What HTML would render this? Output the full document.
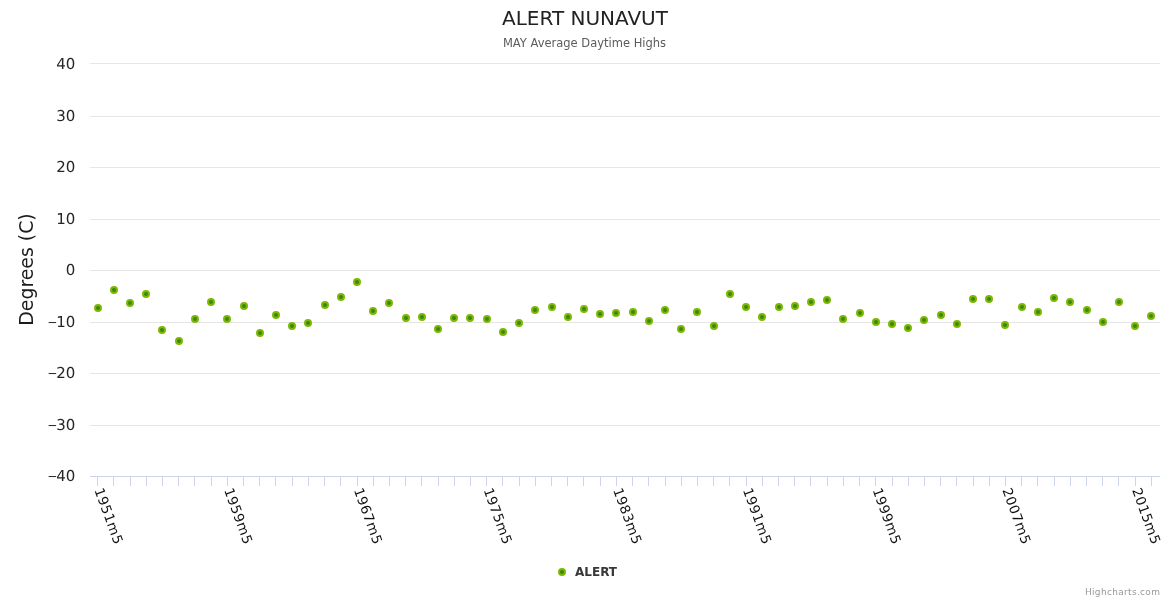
<!DOCTYPE html>
<html lang="en">
<head>
<meta charset="utf-8">
<title>ALERT NUNAVUT - MAY Average Daytime Highs</title>
<style>
html,body{margin:0;padding:0;background:#fff;}
body{width:1170px;height:600px;overflow:hidden;font-family:"DejaVu Sans", "Liberation Sans", sans-serif;}
#chart{position:absolute;left:0;top:0;width:1170px;height:600px;}
svg{display:block;font-family:"DejaVu Sans", "Liberation Sans", sans-serif;}
.grid line{stroke:#e6e6e6;stroke-width:1;shape-rendering:crispEdges;}
.axis line{stroke:#ccd6eb;stroke-width:1;shape-rendering:crispEdges;}
.pt circle, circle.pt{fill:#338d0a;stroke:#80b606;stroke-width:2;}
.ylab text{text-rendering:geometricPrecision;font-size:15px;fill:#262626;text-anchor:end;}
.ylab .neg{font-size:12.6px;text-anchor:start;}
.xlab text{font-size:13.5px;letter-spacing:0.5px;fill:#111;text-anchor:start;}
.title{font-size:20px;fill:#222;text-anchor:middle;}
.subtitle{font-size:11.5px;fill:#5c5c5c;text-anchor:middle;}
.ytitle{font-size:20px;fill:#1c1c1c;text-anchor:middle;}
.legend{font-size:12px;font-weight:bold;fill:#383838;}
.credits{font-size:9px;fill:#999;text-anchor:end;letter-spacing:0.32px;}
</style>
</head>
<body>
<div id="chart">
<svg width="1170" height="600" viewBox="0 0 1170 600">
<rect x="0" y="0" width="1170" height="600" fill="#ffffff"/>

<g class="grid">
<line x1="90" y1="63.5" x2="1160" y2="63.5"/>
<line x1="90" y1="116.5" x2="1160" y2="116.5"/>
<line x1="90" y1="167.5" x2="1160" y2="167.5"/>
<line x1="90" y1="219.5" x2="1160" y2="219.5"/>
<line x1="90" y1="270.5" x2="1160" y2="270.5"/>
<line x1="90" y1="322.5" x2="1160" y2="322.5"/>
<line x1="90" y1="373.5" x2="1160" y2="373.5"/>
<line x1="90" y1="425.5" x2="1160" y2="425.5"/>
</g>
<g class="axis">
<line x1="90" y1="476.5" x2="1160" y2="476.5"/>
<line x1="97.5" y1="477" x2="97.5" y2="486"/>
<line x1="113.5" y1="477" x2="113.5" y2="486"/>
<line x1="130.5" y1="477" x2="130.5" y2="486"/>
<line x1="146.5" y1="477" x2="146.5" y2="486"/>
<line x1="162.5" y1="477" x2="162.5" y2="486"/>
<line x1="178.5" y1="477" x2="178.5" y2="486"/>
<line x1="194.5" y1="477" x2="194.5" y2="486"/>
<line x1="211.5" y1="477" x2="211.5" y2="486"/>
<line x1="227.5" y1="477" x2="227.5" y2="486"/>
<line x1="243.5" y1="477" x2="243.5" y2="486"/>
<line x1="259.5" y1="477" x2="259.5" y2="486"/>
<line x1="275.5" y1="477" x2="275.5" y2="486"/>
<line x1="292.5" y1="477" x2="292.5" y2="486"/>
<line x1="308.5" y1="477" x2="308.5" y2="486"/>
<line x1="324.5" y1="477" x2="324.5" y2="486"/>
<line x1="340.5" y1="477" x2="340.5" y2="486"/>
<line x1="357.5" y1="477" x2="357.5" y2="486"/>
<line x1="373.5" y1="477" x2="373.5" y2="486"/>
<line x1="389.5" y1="477" x2="389.5" y2="486"/>
<line x1="405.5" y1="477" x2="405.5" y2="486"/>
<line x1="421.5" y1="477" x2="421.5" y2="486"/>
<line x1="438.5" y1="477" x2="438.5" y2="486"/>
<line x1="454.5" y1="477" x2="454.5" y2="486"/>
<line x1="470.5" y1="477" x2="470.5" y2="486"/>
<line x1="486.5" y1="477" x2="486.5" y2="486"/>
<line x1="502.5" y1="477" x2="502.5" y2="486"/>
<line x1="519.5" y1="477" x2="519.5" y2="486"/>
<line x1="535.5" y1="477" x2="535.5" y2="486"/>
<line x1="551.5" y1="477" x2="551.5" y2="486"/>
<line x1="567.5" y1="477" x2="567.5" y2="486"/>
<line x1="583.5" y1="477" x2="583.5" y2="486"/>
<line x1="600.5" y1="477" x2="600.5" y2="486"/>
<line x1="616.5" y1="477" x2="616.5" y2="486"/>
<line x1="632.5" y1="477" x2="632.5" y2="486"/>
<line x1="648.5" y1="477" x2="648.5" y2="486"/>
<line x1="665.5" y1="477" x2="665.5" y2="486"/>
<line x1="681.5" y1="477" x2="681.5" y2="486"/>
<line x1="697.5" y1="477" x2="697.5" y2="486"/>
<line x1="713.5" y1="477" x2="713.5" y2="486"/>
<line x1="729.5" y1="477" x2="729.5" y2="486"/>
<line x1="746.5" y1="477" x2="746.5" y2="486"/>
<line x1="762.5" y1="477" x2="762.5" y2="486"/>
<line x1="778.5" y1="477" x2="778.5" y2="486"/>
<line x1="794.5" y1="477" x2="794.5" y2="486"/>
<line x1="810.5" y1="477" x2="810.5" y2="486"/>
<line x1="827.5" y1="477" x2="827.5" y2="486"/>
<line x1="843.5" y1="477" x2="843.5" y2="486"/>
<line x1="859.5" y1="477" x2="859.5" y2="486"/>
<line x1="875.5" y1="477" x2="875.5" y2="486"/>
<line x1="892.5" y1="477" x2="892.5" y2="486"/>
<line x1="908.5" y1="477" x2="908.5" y2="486"/>
<line x1="924.5" y1="477" x2="924.5" y2="486"/>
<line x1="940.5" y1="477" x2="940.5" y2="486"/>
<line x1="956.5" y1="477" x2="956.5" y2="486"/>
<line x1="973.5" y1="477" x2="973.5" y2="486"/>
<line x1="989.5" y1="477" x2="989.5" y2="486"/>
<line x1="1005.5" y1="477" x2="1005.5" y2="486"/>
<line x1="1021.5" y1="477" x2="1021.5" y2="486"/>
<line x1="1037.5" y1="477" x2="1037.5" y2="486"/>
<line x1="1054.5" y1="477" x2="1054.5" y2="486"/>
<line x1="1070.5" y1="477" x2="1070.5" y2="486"/>
<line x1="1086.5" y1="477" x2="1086.5" y2="486"/>
<line x1="1102.5" y1="477" x2="1102.5" y2="486"/>
<line x1="1118.5" y1="477" x2="1118.5" y2="486"/>
<line x1="1135.5" y1="477" x2="1135.5" y2="486"/>
<line x1="1151.5" y1="477" x2="1151.5" y2="486"/>
</g>
<text class="title" x="585" y="25">ALERT NUNAVUT</text>
<text class="subtitle" x="584.5" y="47">MAY Average Daytime Highs</text>
<text class="ytitle" x="0" y="0" transform="translate(33,269.5) rotate(-90) scale(0.945,1)">Degrees (C)</text>
<g class="ylab">
<text x="75.3" y="69.0">40</text>
<text x="75.3" y="121.0">30</text>
<text x="75.3" y="172.0">20</text>
<text x="75.3" y="224.0">10</text>
<text x="75.3" y="275.0">0</text>
<text><tspan class="neg" x="47.3" y="326.0" textLength="10.3" lengthAdjust="spacingAndGlyphs">-</tspan><tspan x="75.3" y="327.0">10</tspan></text>
<text><tspan class="neg" x="47.3" y="377.0" textLength="10.3" lengthAdjust="spacingAndGlyphs">-</tspan><tspan x="75.3" y="378.0">20</tspan></text>
<text><tspan class="neg" x="47.3" y="429.0" textLength="10.3" lengthAdjust="spacingAndGlyphs">-</tspan><tspan x="75.3" y="430.0">30</tspan></text>
<text><tspan class="neg" x="47.3" y="480.0" textLength="10.3" lengthAdjust="spacingAndGlyphs">-</tspan><tspan x="75.3" y="481.0">40</tspan></text>
</g>
<g class="xlab">
<text x="94.3" y="489.9" transform="rotate(70 94.3 489.9)">1951m5</text>
<text x="224.0" y="489.9" transform="rotate(70 224.0 489.9)">1959m5</text>
<text x="353.7" y="489.9" transform="rotate(70 353.7 489.9)">1967m5</text>
<text x="483.4" y="489.9" transform="rotate(70 483.4 489.9)">1975m5</text>
<text x="613.1" y="489.9" transform="rotate(70 613.1 489.9)">1983m5</text>
<text x="742.8" y="489.9" transform="rotate(70 742.8 489.9)">1991m5</text>
<text x="872.5" y="489.9" transform="rotate(70 872.5 489.9)">1999m5</text>
<text x="1002.2" y="489.9" transform="rotate(70 1002.2 489.9)">2007m5</text>
<text x="1131.9" y="489.9" transform="rotate(70 1131.9 489.9)">2015m5</text>
</g>
<g class="pt">
<circle cx="98" cy="308" r="3"/>
<circle cx="114" cy="290" r="3"/>
<circle cx="130" cy="303" r="3"/>
<circle cx="146" cy="294" r="3"/>
<circle cx="162" cy="330" r="3"/>
<circle cx="179" cy="341" r="3"/>
<circle cx="195" cy="319" r="3"/>
<circle cx="211" cy="302" r="3"/>
<circle cx="227" cy="319" r="3"/>
<circle cx="244" cy="306" r="3"/>
<circle cx="260" cy="333" r="3"/>
<circle cx="276" cy="315" r="3"/>
<circle cx="292" cy="326" r="3"/>
<circle cx="308" cy="323" r="3"/>
<circle cx="325" cy="305" r="3"/>
<circle cx="341" cy="297" r="3"/>
<circle cx="357" cy="282" r="3"/>
<circle cx="373" cy="311" r="3"/>
<circle cx="389" cy="303" r="3"/>
<circle cx="406" cy="318" r="3"/>
<circle cx="422" cy="317" r="3"/>
<circle cx="438" cy="329" r="3"/>
<circle cx="454" cy="318" r="3"/>
<circle cx="470" cy="318" r="3"/>
<circle cx="487" cy="319" r="3"/>
<circle cx="503" cy="332" r="3"/>
<circle cx="519" cy="323" r="3"/>
<circle cx="535" cy="310" r="3"/>
<circle cx="552" cy="307" r="3"/>
<circle cx="568" cy="317" r="3"/>
<circle cx="584" cy="309" r="3"/>
<circle cx="600" cy="314" r="3"/>
<circle cx="616" cy="313" r="3"/>
<circle cx="633" cy="312" r="3"/>
<circle cx="649" cy="321" r="3"/>
<circle cx="665" cy="310" r="3"/>
<circle cx="681" cy="329" r="3"/>
<circle cx="697" cy="312" r="3"/>
<circle cx="714" cy="326" r="3"/>
<circle cx="730" cy="294" r="3"/>
<circle cx="746" cy="307" r="3"/>
<circle cx="762" cy="317" r="3"/>
<circle cx="779" cy="307" r="3"/>
<circle cx="795" cy="306" r="3"/>
<circle cx="811" cy="302" r="3"/>
<circle cx="827" cy="300" r="3"/>
<circle cx="843" cy="319" r="3"/>
<circle cx="860" cy="313" r="3"/>
<circle cx="876" cy="322" r="3"/>
<circle cx="892" cy="324" r="3"/>
<circle cx="908" cy="328" r="3"/>
<circle cx="924" cy="320" r="3"/>
<circle cx="941" cy="315" r="3"/>
<circle cx="957" cy="324" r="3"/>
<circle cx="973" cy="299" r="3"/>
<circle cx="989" cy="299" r="3"/>
<circle cx="1005" cy="325" r="3"/>
<circle cx="1022" cy="307" r="3"/>
<circle cx="1038" cy="312" r="3"/>
<circle cx="1054" cy="298" r="3"/>
<circle cx="1070" cy="302" r="3"/>
<circle cx="1087" cy="310" r="3"/>
<circle cx="1103" cy="322" r="3"/>
<circle cx="1119" cy="302" r="3"/>
<circle cx="1135" cy="326" r="3"/>
<circle cx="1151" cy="316" r="3"/>
</g>
<circle class="pt" cx="562" cy="572" r="3"/>
<text class="legend" x="575" y="576">ALERT</text>
<text class="credits" x="1160.3" y="595">Highcharts.com</text>
</svg>
</div>
</body>
</html>
